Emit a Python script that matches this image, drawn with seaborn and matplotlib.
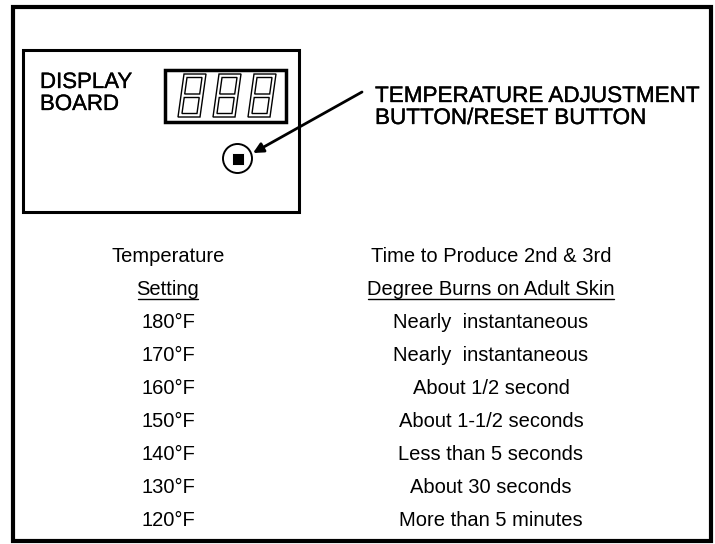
import numpy as np
import pandas as pd
import seaborn as sns
import matplotlib.pyplot as plt
import matplotlib.patheffects as pe
from matplotlib.patches import Rectangle, Polygon, Circle

# table content
header_left = ["Temperature", "Setting"]
header_right = ["Time to Produce 2nd & 3rd", "Degree Burns on Adult Skin"]
temps = ["180°F", "170°F", "160°F", "150°F", "140°F", "130°F", "120°F"]
times = ["Nearly  instantaneous", "Nearly  instantaneous", "About 1/2 second",
         "About 1-1/2 seconds", "Less than 5 seconds", "About 30 seconds",
         "More than 5 minutes"]
board_label = ["DISPLAY", "BOARD"]
button_label = ["TEMPERATURE ADJUSTMENT", "BUTTON/RESET BUTTON"]
n_digits = 3

sns.set_theme(style="white")
plt.rcParams['font.family'] = ['Liberation Sans', 'DejaVu Sans']

fig = plt.figure(figsize=(7.15, 5.44), dpi=100)
ax = fig.add_axes([0, 0, 1, 1])

# outer frame and display board box
ax.add_patch(Rectangle((13, 6.5), 698, 534, fill=False, lw=3.0, ec='black'))
ax.add_patch(Rectangle((22.5, 49.5), 276, 162, fill=False, lw=2.2, ec='black'))
ax.add_patch(Rectangle((164.5, 69.5), 121, 52, fill=False, lw=2.5, ec='black'))

# seven segment style digits, italic outline
def skew_poly(x0, ytop, ybot, w, skew, base=117, h=43):
    pts = []
    for (x, y) in [(x0, ybot), (x0 + w, ybot), (x0 + w, ytop), (x0, ytop)]:
        pts.append((x + skew * (base - y) / h, y))
    return pts

for i in range(n_digits):
    x0 = 178 + 35 * i
    ax.add_patch(Polygon(skew_poly(x0, 74, 117, 22, 6), closed=True, fill=False, lw=1.0, ec='black'))
    ax.add_patch(Polygon(skew_poly(x0 + 3.5, 77.5, 94, 15, 6), closed=True, fill=False, lw=1.0, ec='black'))
    ax.add_patch(Polygon(skew_poly(x0 + 3.5, 97.5, 113.5, 15, 6), closed=True, fill=False, lw=1.0, ec='black'))

# button
ax.add_patch(Circle((237.5, 158.5), 14.5, fill=False, lw=1.4, ec='black'))
btn = pd.DataFrame({'x': [237.5], 'y': [159]})
sns.scatterplot(data=btn, x='x', y='y', marker='s', s=70, color='black', ax=ax, legend=False)
ax.set_xlim(0, 715)
ax.set_ylim(544, 0)
ax.axis('off')

ax.annotate('', xy=(253, 153), xytext=(362, 92),
            arrowprops=dict(arrowstyle='-|>', lw=2.0, color='black', mutation_scale=15,
                            shrinkA=0, shrinkB=0))

# slightly heavier strokes like the scanned labels
bold_fx = [pe.withStroke(linewidth=0.25, foreground='black')]
for i, s in enumerate(board_label):
    ax.text(40, 88 + 22 * i, s, fontsize=16, va='baseline', ha='left', color='black',
            path_effects=bold_fx)
for i, s in enumerate(button_label):
    ax.text(375, 102 + 22 * i, s, fontsize=16.2, va='baseline', ha='left', color='black',
            path_effects=bold_fx)

# table
col_l, col_r = 168, 491
row0, dy = 256, 33.1
rows = [(header_left[0], header_right[0])] + [(header_left[1], header_right[1])] + list(zip(temps, times))
fig.canvas.draw()
renderer = fig.canvas.get_renderer()
inv = ax.transData.inverted()
for i, (a, b) in enumerate(rows):
    y = row0 + dy * i
    ta = ax.text(col_l, y, a, fontsize=14.5, ha='center', va='center', color='black')
    tb = ax.text(col_r, y, b, fontsize=14.5, ha='center', va='center', color='black')
    if i == 1:
        for t in (ta, tb):
            bb = t.get_window_extent(renderer=renderer)
            (x1, y1), (x2, y2) = inv.transform([(bb.x0, bb.y0), (bb.x1, bb.y1)])
            ax.plot([x1 + 1, x2 - 1], [y + 9.5, y + 9.5], color='black', lw=1.0)

fig.savefig('out.png', dpi=100)
